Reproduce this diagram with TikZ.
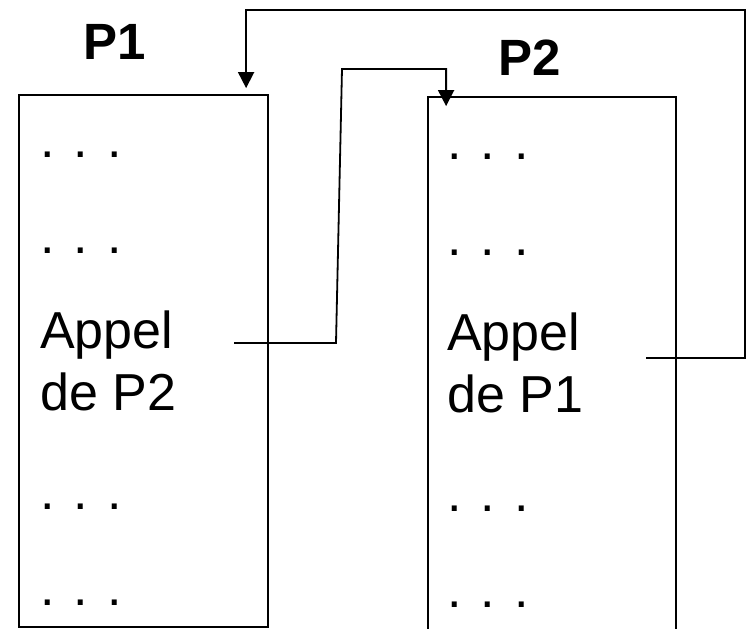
\documentclass[tikz,border=0pt]{standalone}
\usepackage{fontspec}
\setmainfont{Liberation Sans}
\usetikzlibrary{arrows.meta}

\tikzset{
  procbox/.style={draw=black, line width=1.8pt, inner sep=0pt, rectangle},
  body/.style={inner sep=0pt, anchor=base west, font=\fontsize{52}{60}\selectfont},
  title/.style={inner sep=0pt, anchor=base, font=\fontsize{51}{60}\selectfont\bfseries},
  link/.style={draw=black, line width=1.8pt, line join=miter},
  callarrow/.style={link, -{Triangle[length=16pt,width=16pt]}}
}

\begin{document}
\begin{tikzpicture}[x=1pt, y=-1pt]
  % page frame
  \clip (0,0) rectangle (748,629);
  \fill[white] (0,0) rectangle (748,629);

  % the two procedures (P2 runs past the lower edge)
  \node[procbox, minimum width=249pt, minimum height=532pt] (boxA) at (143.5,361) {};
  \node[procbox, minimum width=248pt, minimum height=563pt] (boxB) at (552,378.5) {};

  % titles
  \node[title] (tA) at (115,59) {P1};
  \node[title] (tB) at (530,75) {P2};

  % body of P1
  \node[body] (a1) at (40,157) {. . .};
  \node[body] (a2) at (40,253) {. . .};
  \node[body] (a3) at (40,348) {Appel};
  \node[body] (a4) at (40,410) {de P2};
  \node[body] (a5) at (40,509) {. . .};
  \node[body] (a6) at (40,605) {. . .};

  % body of P2
  \node[body] (b1) at (447,159) {. . .};
  \node[body] (b2) at (447,255) {. . .};
  \node[body] (b3) at (447,350) {Appel};
  \node[body] (b4) at (447,412) {de P1};
  \node[body] (b5) at (447,511) {. . .};
  \node[body] (b6) at (447,607) {. . .};

  % call sites and entry points
  \coordinate (callA) at (234,343);
  \coordinate (callB) at (646,358);
  \coordinate (entryA) at ([xshift=228pt,yshift=6pt]boxA.north west);
  \coordinate (entryB) at ([xshift=19pt,yshift=-10pt]boxB.north west);

  % P1 calls P2
  \draw[callarrow] (callA) -- (336,343) -- (342,69) -| (entryB);
  % P2 calls P1
  \draw[callarrow] (callB) -- (745,358) -- (745,10) -| (entryA);
\end{tikzpicture}
\end{document}
